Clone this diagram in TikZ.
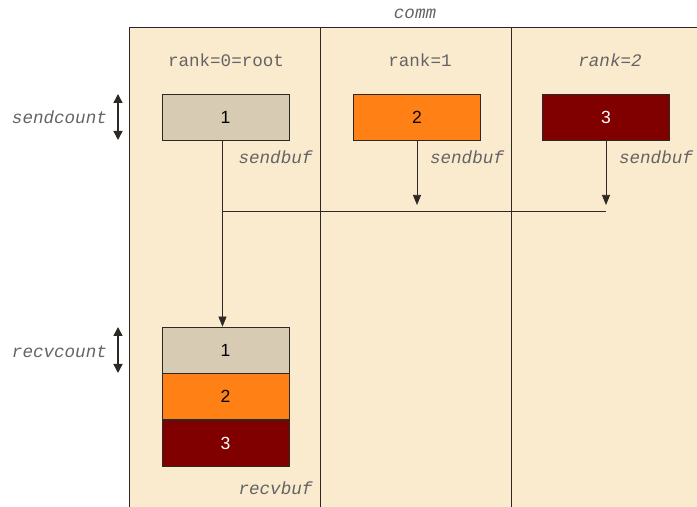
\documentclass[tikz,border=0pt]{standalone}
\usepackage{fontspec}
\setmainfont{Liberation Sans}
\setmonofont{Liberation Mono}
\usetikzlibrary{calc, positioning}
\usetikzlibrary{arrows.meta}

\definecolor{commbg}{RGB}{250,234,206}
\definecolor{buftan}{RGB}{215,203,180}
\definecolor{buforange}{RGB}{255,128,20}
\definecolor{bufred}{RGB}{128,0,0}
\definecolor{labelgray}{RGB}{100,100,100}
\definecolor{linegray}{RGB}{45,40,35}

\tikzset{
  buf/.style={draw=linegray, minimum width=2.54cm, minimum height=0.92cm,
    inner sep=0pt, font=\rmfamily},
  tag/.style={text=labelgray, font=\ttfamily\itshape, inner sep=1pt},
  head/.style={text=labelgray, font=\ttfamily, inner sep=1pt},
  flow/.style={draw=linegray, -{Triangle[length=2mm, width=1.6mm]}},
  count/.style={draw=linegray, thick, {Triangle[length=1.8mm, width=1.8mm]}-{Triangle[length=1.8mm, width=1.8mm]}}
}

\begin{document}
\begin{tikzpicture}
\useasboundingbox (0,0) rectangle (13.94,-10.14);
\clip (0,0) rectangle (13.94,-10.14);

% communicator and ranks
\fill[commbg] (2.58,-0.54) rectangle (14.5,-10.5);
\draw[linegray] (2.58,-10.5) -- (2.58,-0.54) -- (14.5,-0.54);
\draw[linegray] (6.40,-0.54) -- (6.40,-10.5);
\draw[linegray] (10.22,-0.54) -- (10.22,-10.5);
\node[tag] (comm) at (8.30,-0.28) {comm};

\node[head] (rank0) at (4.52,-1.20) {rank=0=root};
\node[head] (rank1) at (8.40,-1.20) {rank=1};
\node[tag] (rank2) at (12.20,-1.20) {rank=2};

% send buffers
\node[buf, fill=buftan] (send1) at (4.51,-2.34) {1};
\node[buf, fill=buforange] (send2) at (8.34,-2.34) {2};
\node[buf, fill=bufred, text=white] (send3) at (12.12,-2.34) {3};

\node[tag, anchor=west] (sb1) at ($(send1.south)+(0.22,-0.34)$) {sendbuf};
\node[tag, anchor=west] (sb2) at ($(send2.south)+(0.22,-0.34)$) {sendbuf};
\node[tag, anchor=west] (sb3) at ($(send3.south)+(0.22,-0.34)$) {sendbuf};

% receive buffer at root
\node[buf, fill=buftan] (recv1) at (4.51,-7.00) {1};
\node[buf, fill=buforange, below=0pt of recv1] (recv2) {2};
\node[buf, fill=bufred, text=white, below=0pt of recv2] (recv3) {3};
\node[tag, anchor=west] (rb) at ($(recv3.south)+(0.22,-0.43)$) {recvbuf};

% gather lines
\coordinate (busL) at ($(send1.south |- 0,-4.22)+(-0.06,0)$);
\coordinate (busR) at (send3.south |- 0,-4.22);
\coordinate (in2) at ($(send2.south |- busL)+(0,0.12)$);
\coordinate (in3) at ($(send3.south |- busL)+(0,0.12)$);
\draw[linegray] (busL) -- (busR);
\draw[flow] (send2.south) -- (in2);
\draw[flow] (send3.south) -- (in3);
\draw[flow] ($(send1.south)+(-0.06,0)$) -- ($(recv1.north)+(-0.06,0)$);

% counts
\node[tag, anchor=east] (scount) at (2.18,-2.34) {sendcount};
\node[tag, anchor=east] (rcount) at (2.18,-7.04) {recvcount};
\draw[count] (2.36,-1.88) -- (2.36,-2.80);
\draw[count] (2.36,-6.54) -- (2.36,-7.46);
\end{tikzpicture}
\end{document}
